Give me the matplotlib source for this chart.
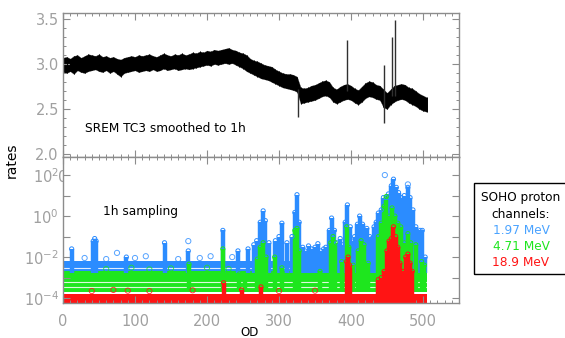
import numpy as np
import matplotlib
matplotlib.use("Agg")
import matplotlib.pyplot as plt
from matplotlib.ticker import MultipleLocator, FixedLocator, FixedFormatter
from matplotlib.patches import Rectangle

# ---------------- data: top panel (SREM TC3, smoothed to 1h) ----------------
OD_TOP = list(range(0, 506, 5))
SREM_LO = [2.91, 2.90, 2.92, 2.89, 2.93, 2.91, 2.90, 2.92, 2.93, 2.94,
           2.92, 2.91, 2.93, 2.90, 2.92, 2.89, 2.86, 2.90, 2.91, 2.92,
           2.93, 2.91, 2.92, 2.93, 2.92, 2.94, 2.92, 2.93, 2.95, 2.93,
           2.94, 2.95, 2.93, 2.94, 2.95, 2.94, 2.95, 2.96, 2.97, 2.98,
           2.99, 2.98, 3.00, 2.99, 3.00, 3.01, 3.00, 3.01, 2.99, 2.97,
           2.95, 2.92, 2.90, 2.88, 2.86, 2.84, 2.83, 2.82, 2.80, 2.78,
           2.76, 2.74, 2.73, 2.72, 2.71, 2.69, 2.56, 2.57, 2.58, 2.59,
           2.60, 2.62, 2.64, 2.65, 2.63, 2.58, 2.56, 2.58, 2.60, 2.61,
           2.60, 2.57, 2.55, 2.58, 2.62, 2.64, 2.63, 2.61, 2.60, 2.52,
           2.50, 2.55, 2.58, 2.60, 2.61, 2.60, 2.57, 2.55, 2.53, 2.50,
           2.48, 2.47]
SREM_HI = [3.07, 3.08, 3.06, 3.09, 3.10, 3.07, 3.09, 3.11, 3.10, 3.09,
           3.11, 3.08, 3.09, 3.07, 3.08, 3.06, 3.05, 3.07, 3.08, 3.09,
           3.08, 3.10, 3.09, 3.10, 3.11, 3.09, 3.08, 3.10, 3.12, 3.10,
           3.09, 3.11, 3.10, 3.12, 3.10, 3.11, 3.13, 3.12, 3.14, 3.13,
           3.15, 3.14, 3.16, 3.15, 3.16, 3.17, 3.18, 3.16, 3.15, 3.13,
           3.12, 3.10, 3.06, 3.04, 3.03, 3.01, 2.99, 2.98, 2.97, 2.94,
           2.92, 2.90, 2.89, 2.89, 2.88, 2.86, 2.74, 2.73, 2.74, 2.76,
           2.77, 2.79, 2.81, 2.82, 2.80, 2.74, 2.72, 2.75, 2.77, 2.78,
           2.76, 2.73, 2.71, 2.75, 2.79, 2.81, 2.80, 2.77, 2.76, 2.72,
           2.68, 2.72, 2.76, 2.77, 2.78, 2.77, 2.74, 2.73, 2.70, 2.67,
           2.65, 2.63]
SPIKE_OD = [327, 394, 446, 457, 461]
SPIKE_LOW = [2.41, 2.70, 2.34, 2.65, 2.65]
SPIKE_HIGH = [2.72, 3.27, 2.99, 3.30, 3.49]

# ---------------- data: bottom panel (SOHO proton channels) ----------------
CHANNELS = ["1.97 MeV", "4.71 MeV", "18.9 MeV"]
BASE_END = 505
BLUE_BASE = (1.6e-3, 6.3e-3)
GREEN_BASE = (2.0e-4, 2.0e-3)
RED_BASE = (3.0e-5, 1.6e-4)
BLUE_GAPS = [2.8e-3]
GREEN_GAPS = [6.3e-4, 3.5e-4]
RED_GAPS = []

BLUE_OD = [12, 42, 44, 46, 88, 141, 174, 222, 243, 257, 265, 269, 274, 278,
           281, 286, 295, 300, 304, 311, 318, 322, 325, 328, 333, 336, 341,
           345, 350, 354, 358, 362, 365, 370, 373, 377, 380, 385, 388, 392,
           395, 399, 402, 405, 409, 412, 416, 419, 422, 426, 429, 432, 435,
           438, 442, 445, 449, 452, 456, 459, 463, 466, 470, 474, 479, 482,
           486, 490, 493, 496, 499, 503]
BLUE_PEAK = [0.025, 0.06, 0.08, 0.06, 0.01, 0.05, 0.02, 0.2, 0.02, 0.025,
             0.04, 0.063, 0.5, 1.8, 0.6, 0.05, 0.063, 0.1, 0.45, 0.05, 0.1,
             1.5, 11, 0.5, 0.03, 0.02, 0.035, 0.025, 0.03, 0.045, 0.02, 0.025,
             0.03, 0.2, 0.8, 0.2, 0.05, 0.08, 0.04, 0.5, 3.5, 0.3, 0.06, 0.1,
             0.4, 1.0, 0.4, 0.15, 0.25, 0.1, 0.08, 0.3, 0.5, 1.4, 2, 8, 8,
             12, 30, 63, 25, 14, 8, 10, 25, 8, 2, 0.3, 0.15, 0.2, 0.2, 0.01]
BLUE_DOT_OD = [30, 60, 75, 100, 115, 160, 174, 190, 205, 235, 447, 479]
BLUE_DOT = [9e-3, 8e-3, 0.016, 9e-3, 0.011, 8e-3, 0.06, 9e-3, 0.011, 0.01,
            100, 35]

GREEN_OD = [175, 222, 245, 253, 270, 274, 278, 282, 294, 304, 322, 325, 328,
            357, 372, 375, 378, 387, 394, 397, 403, 410, 414, 418, 424, 438,
            442, 446, 449, 453, 457, 461, 465, 469, 474, 479, 483, 490, 498, 502]
GREEN_PEAK = [4.5e-3, 0.025, 1.5e-3, 1.1e-3, 0.008, 0.03, 0.05, 0.01, 0.01,
              0.003, 0.2, 0.25, 0.02, 0.002, 0.05, 0.1, 0.05, 0.006, 0.3, 0.03,
              0.004, 0.02, 0.063, 0.04, 0.005, 0.1, 0.45, 3, 9, 1, 2.5, 1, 0.45,
              0.3, 0.05, 0.14, 0.05, 0.04, 0.006, 0.004]
GREEN_DOT_OD = [60, 95, 120, 150, 200, 230]
GREEN_DOT = [2.6e-3, 3e-3, 2.5e-3, 2.8e-3, 3e-3, 2.6e-3]

RED_OD = [223, 248, 275, 394, 396, 398, 438, 442, 446, 450, 453, 456, 459,
          462, 465, 468, 472, 476, 479, 482, 485]
RED_PEAK = [5.6e-4, 2.5e-4, 3.5e-4, 0.006, 0.01, 0.004, 8e-4, 1e-3, 2e-3, 0.02,
            0.06, 0.08, 0.3, 0.1, 0.03, 0.005, 0.002, 0.01, 0.014, 0.005, 0.002]
RED_DOT_OD = [40, 70, 90, 120, 180, 300, 350]
RED_DOT = [2.2e-4, 2.5e-4, 2.3e-4, 2.2e-4, 2.4e-4, 2.2e-4, 2.3e-4]

BLUE = "#2b8cff"
GREEN = "#1ee61e"
RED = "#ff1414"
LEG_BLUE = "#4aa3ff"
TICK_GRAY = "#a0a0a0"
SPINE_GRAY = "#8c8c8c"

plt.rcParams["font.family"] = ["DejaVu Sans"]

fig = plt.figure(figsize=(5.65, 3.38), dpi=100)
W, H = 565.0, 338.0
L, R = 63, 459
ax1 = fig.add_axes([L / W, (H - 157) / H, (R - L) / W, (157 - 13) / H])
ax2 = fig.add_axes([L / W, (H - 303) / H, (R - L) / W, (303 - 157) / H])

for ax in (ax1, ax2):
    for s in ax.spines.values():
        s.set_color(SPINE_GRAY)
        s.set_linewidth(1.0)
    ax.tick_params(which="both", direction="in", colors=SPINE_GRAY,
                   labelcolor=TICK_GRAY, labelsize=10.5, top=True, right=True)
    ax.tick_params(which="major", length=5, width=0.8)
    ax.tick_params(which="minor", length=2.5, width=0.7)
    ax.set_xlim(0, 550)
    ax.xaxis.set_major_locator(MultipleLocator(100))
    ax.xaxis.set_minor_locator(MultipleLocator(10))

# ---- top panel ----
ax1.fill_between(OD_TOP, SREM_LO, SREM_HI, color="black", lw=0.2,
                 edgecolor="#303030")
ax1.vlines(OD_TOP, SREM_LO, SREM_HI, color="black", lw=0.7)
ax1.vlines(SPIKE_OD, SPIKE_LOW, SPIKE_HIGH, color="#303030", lw=1.0)
ax1.set_ylim(1.967, 3.567)
ax1.yaxis.set_major_locator(MultipleLocator(0.5))
ax1.yaxis.set_minor_locator(MultipleLocator(0.1))
ax1.yaxis.set_major_formatter(matplotlib.ticker.FormatStrFormatter("%.1f"))
ax1.tick_params(axis="x", pad=9)
ax1.tick_params(axis="y", pad=3)
ax1.text(0.056, 0.20, "SREM TC3 smoothed to 1h", transform=ax1.transAxes,
         fontsize=8.7, color="black", va="center", ha="left")

# ---- bottom panel ----
ax2.set_yscale("log")
ax2.set_ylim(10 ** -4.24, 10 ** 2.88)


def draw_channel(ax, base, gaps, ods, peaks, dot_od, dots, color):
    ax.fill_between([0, BASE_END], [base[0], base[0]], [base[1], base[1]],
                    color=color, lw=0)
    for g in gaps:
        ax.hlines(g, 0, BASE_END, color="white", lw=0.8, alpha=0.85)
    ax.vlines(ods, base[0], peaks, color=color, lw=3.2)
    ax.scatter(ods, peaks, s=9, marker="o", facecolors="none",
               edgecolors=color, linewidths=0.7, zorder=3)
    ax.scatter(dot_od, dots, s=14, marker="o", facecolors="none",
               edgecolors=color, linewidths=0.7, zorder=3, alpha=0.8)


draw_channel(ax2, BLUE_BASE, BLUE_GAPS, BLUE_OD, BLUE_PEAK,
             BLUE_DOT_OD, BLUE_DOT, BLUE)
draw_channel(ax2, GREEN_BASE, GREEN_GAPS, GREEN_OD, GREEN_PEAK,
             GREEN_DOT_OD, GREEN_DOT, GREEN)
draw_channel(ax2, RED_BASE, RED_GAPS, RED_OD, RED_PEAK,
             RED_DOT_OD, RED_DOT, RED)

dec = [1e-4, 1e-3, 1e-2, 1e-1, 1e0, 1e1, 1e2]
labs = ["$10^{-4}$", "", "$10^{-2}$", "", "$10^{0}$", "", "$10^{2}$"]
ax2.yaxis.set_major_locator(FixedLocator(dec))
ax2.yaxis.set_major_formatter(FixedFormatter(labs))
ax2.yaxis.set_minor_locator(matplotlib.ticker.NullLocator())
ax2.tick_params(axis="x", pad=8)
ax2.tick_params(axis="y", pad=3)
ax2.text(0.10, 0.63, "1h sampling", transform=ax2.transAxes,
         fontsize=8.7, color="black", va="center", ha="left")

fig.text(250 / W, 1 - 332 / H, "OD", fontsize=8.5, color="black",
         ha="center", va="center")
fig.text(12 / W, 1 - 160 / H, "rates", rotation=90, fontsize=10,
         color="black", ha="center", va="center")

# ---- legend box ----
fig.patches.append(Rectangle((474 / W, 1 - 274 / H), 100 / W, 91 / H,
                             transform=fig.transFigure, fill=False,
                             edgecolor="black", lw=1.0))
leg_x = 521 / W
fig.text(leg_x, 1 - 198 / H, "SOHO proton", fontsize=8.7, ha="center",
         va="center", color="black")
fig.text(leg_x, 1 - 214 / H, "channels:", fontsize=8.7, ha="center",
         va="center", color="black")
for lab, col, y in zip(CHANNELS, [LEG_BLUE, GREEN, RED], [231, 247, 263]):
    fig.text(leg_x, 1 - y / H, lab, fontsize=8.7, ha="center", va="center",
             color=col)

fig.savefig("out.png", dpi=100)
